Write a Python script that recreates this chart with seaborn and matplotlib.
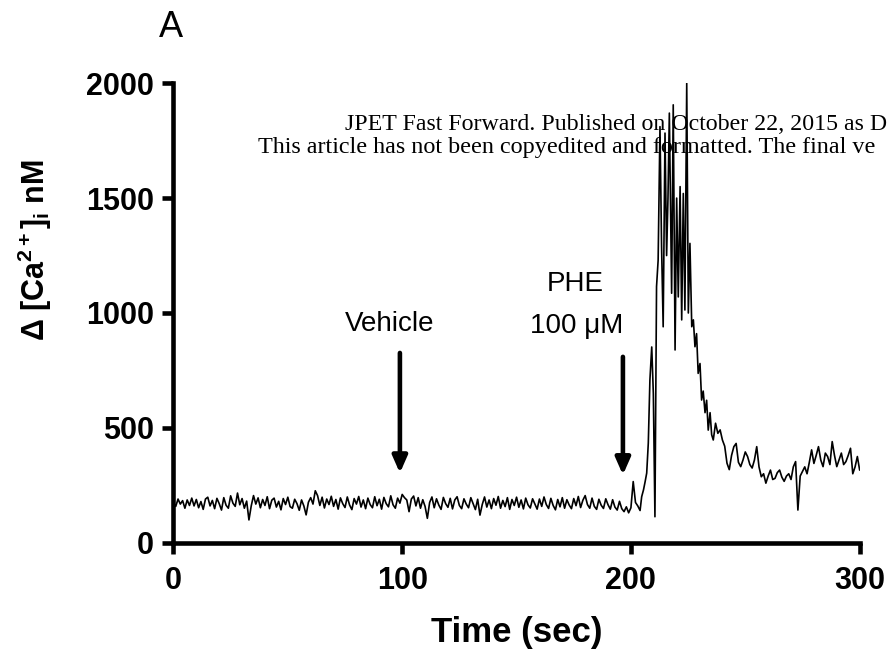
import numpy as np
import pandas as pd
import matplotlib
matplotlib.use("Agg")
import matplotlib.pyplot as plt
import seaborn as sns

# baseline, sampled every 1 s from t = 0 to 204 s
base_ca = [
    175, 158, 190, 168, 183, 150, 186, 162, 194, 160,
    188, 152, 179, 145, 190, 198, 160, 184, 148, 193,
    170, 142, 196, 163, 150, 204, 172, 158, 216, 165,
    192, 150, 181, 99, 160, 205, 168, 195, 152, 188,
    162, 200, 148, 185, 194, 155, 180, 143, 192, 166,
    198, 157, 150, 189, 170, 141, 186, 160, 121, 176,
    196, 168, 226, 205, 162, 198, 151, 190, 166, 202,
    158, 188, 146, 195, 170, 153, 199, 164, 144, 192,
    168, 201, 155, 186, 148, 194, 166, 152, 200, 161,
    189, 146, 197, 170, 156, 204, 165, 150, 194, 172,
    210, 196, 186, 135, 190, 203, 160, 196, 150, 187,
    158, 106, 175, 199, 152, 191, 164, 145, 197, 170,
    154, 193, 147, 186, 200, 162, 148, 191, 168, 152,
    196, 170, 144, 189, 120, 166, 199, 155, 186, 148,
    192, 163, 201, 150, 184, 157, 196, 145, 188, 162,
    198, 154, 186, 147, 194, 165, 151, 191, 168, 146,
    190, 158, 199, 166, 149, 193, 162, 143, 188, 156,
    196, 150, 187, 164, 148, 192, 161, 201, 153, 185,
    205, 166, 150, 194, 158, 145, 189, 163, 149, 191,
    165, 146, 187, 155, 142, 180, 148, 135, 156, 130,
    152, 266, 175, 160, 140,
]

# PHE response, read point by point
spike_t = [204.7, 205.5, 206.2, 206.9, 207.6, 208.3, 209.1, 209.8, 210.5, 211.2,
           211.9, 212.7, 213.4, 214.1, 214.9, 215.6, 216.2, 216.8, 217.8, 218.5,
           219.3, 220.0, 220.7, 221.5, 222.2, 222.9, 223.6, 224.4, 225.1, 225.8,
           226.6, 227.3, 228.0, 228.7, 229.4, 230.2, 230.9, 231.6, 232.4, 233.1,
           233.8, 234.6, 235.3, 236.0]
spike_ca = [200, 230, 265, 303, 434, 708, 852, 650, 113, 1115,
            1230, 1811, 1290, 940, 1783, 1250, 1500, 1870, 1086, 1906,
            839, 1500, 1070, 1550, 970, 1520, 1013, 2000, 1000, 1303,
            940, 970, 853, 910, 737, 780, 621, 660, 566, 620,
            490, 566, 470, 447]

# recovery, every 1 s from t = 237 to 300 s
tail_ca = [
    520, 476, 491, 447, 420, 346, 318, 380, 418, 432,
    350, 331, 360, 395, 375, 340, 325, 360, 418, 330,
    287, 300, 259, 290, 316, 275, 280, 305, 316, 285,
    267, 290, 300, 275, 330, 353, 142, 290, 310, 330,
    300, 350, 404, 345, 380, 418, 360, 331, 390, 375,
    340, 440, 380, 331, 360, 390, 340, 353, 380, 411,
    300, 330, 375, 316,
]

time_s = np.concatenate([np.arange(0, 205), spike_t, np.arange(237, 301)])
ca_nM = np.concatenate([base_ca, spike_ca, tail_ca])
df = pd.DataFrame({"time": time_s, "ca": ca_nM})

sns.set_style("ticks")
plt.rcParams['font.family'] = ['Liberation Sans', 'DejaVu Sans']
plt.rcParams['mathtext.fontset'] = 'custom'
plt.rcParams['mathtext.rm'] = 'Liberation Sans'
plt.rcParams['mathtext.bf'] = 'Liberation Sans:bold'
plt.rcParams['mathtext.it'] = 'Liberation Sans:italic'
for key in ['text.color', 'axes.labelcolor', 'xtick.color', 'ytick.color', 'axes.edgecolor']:
    plt.rcParams[key] = 'black'

fig = plt.figure(figsize=(8.9, 6.51), dpi=100)
ax = fig.add_axes([0.1949, 0.1664, 0.771, 0.7057])

sns.lineplot(data=df, x="time", y="ca", ax=ax, color="black", linewidth=1.2,
             estimator=None)

ax.set_xlim(0, 300)
ax.set_ylim(0, 2000)
ax.set_xticks([0, 100, 200, 300])
ax.set_yticks([0, 500, 1000, 1500, 2000])
sns.despine(ax=ax)
for s in ["left", "bottom"]:
    ax.spines[s].set_linewidth(3.3)
ax.tick_params(width=3.3, length=8, labelsize=22)
ax.tick_params(axis="x", pad=9)
ax.tick_params(axis="y", pad=6)
for lab in ax.get_xticklabels() + ax.get_yticklabels():
    lab.set_fontweight("bold")
ax.set_xlabel("Time (sec)", fontsize=25, fontweight="bold", labelpad=14)
ax.set_ylabel("")

fig.text(35 / 890, 0.616, r'Δ [Ca$^{\mathbf{2+}}$]$_{\mathbf{i}}$ nM',
         rotation=90, fontsize=22, fontweight="bold", ha="center", va="center")
fig.text(171 / 890, 0.9585, "A", fontsize=26, ha="center", va="center")

# stimulus markers
arrow = dict(arrowstyle="-|>,head_width=0.22,head_length=0.5", color="black",
             lw=3.3, shrinkA=0, shrinkB=0, mutation_scale=20)
ax.annotate("", xy=(99, 303), xytext=(99, 826), arrowprops=arrow)
ax.annotate("", xy=(196.5, 295), xytext=(196.5, 809), arrowprops=arrow)
ax.text(94.7, 950, "Vehicle", fontsize=20, ha="center", va="center")
ax.text(175.5, 1125, "PHE", fontsize=20, ha="center", va="center")
ax.text(176.4, 945, "100 μM", fontsize=20, ha="center", va="center")

# journal watermark (cut by the right edge as in the source page)
fig.text(345 / 890, 0.808, "JPET Fast Forward. Published on October 22, 2015 as D",
         family="Liberation Serif", fontsize=17.2, va="center")
fig.text(258 / 890, 0.7727, "This article has not been copyedited and formatted. The final ve",
         family="Liberation Serif", fontsize=17.4, va="center")

fig.savefig("out.png", dpi=100)
